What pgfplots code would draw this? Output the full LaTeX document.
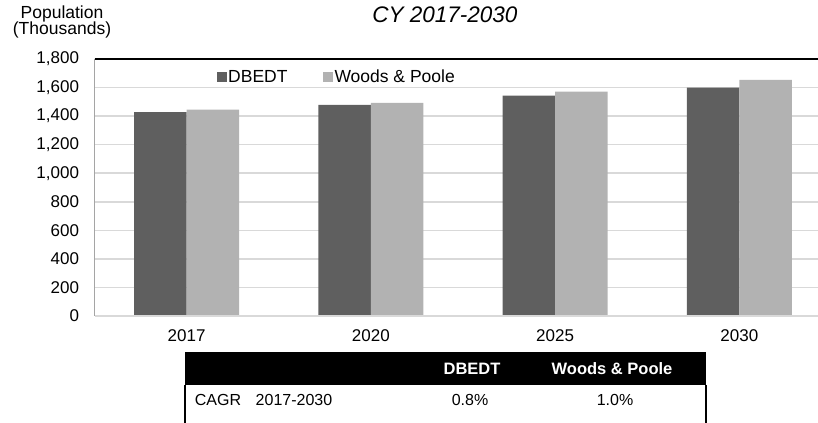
\documentclass[border=0pt]{standalone}
\usepackage{pgfplots}
\pgfplotsset{compat=1.18}
\usepackage{fontspec}
\setmainfont{Liberation Sans}
\definecolor{dbedt}{RGB}{95,95,95}
\definecolor{wp}{RGB}{178,178,178}
\definecolor{gridc}{RGB}{217,217,217}
\newcommand{\fs}{\fontsize{17bp}{20bp}\selectfont}
\newcommand{\fl}{\fontsize{17.5bp}{20bp}\selectfont}
\newcommand{\ft}{\fontsize{16bp}{19bp}\selectfont}
\begin{document}
\begin{tikzpicture}
\clip[use as bounding box] (0,0) rectangle (818bp,423bp);
\begin{axis}[
  at={(94.5bp,107bp)}, anchor=south west,
  scale only axis, width=737bp, height=257bp,
  xmin=-0.5, xmax=3.5, ymin=0, ymax=1800,
  ybar=0pt, bar width=52.5bp,
  xtick={0,1,2,3}, xticklabels={2017,2020,2025,2030},
  ytick={0,200,...,1800},
  major tick length=0pt,
  ymajorgrids, grid style={gridc, line width=1.5bp},
  axis line style={draw=none},
  tick label style={font=\fs},
  /pgf/number format/assume math mode=true,
  /pgf/number format/1000 sep={,},
  yticklabel style={anchor=east, xshift=-12bp},
  xticklabel style={anchor=north, yshift=-10bp},
  legend columns=-1,
  legend style={at={(0.1658,0.930)}, anchor=west, draw=none, fill=none,
    inner sep=0pt, outer sep=0pt, font=\fl,
    nodes={inner xsep=1.5bp},
    /tikz/every even column/.append style={column sep=34bp}},
]
\addplot[fill=dbedt, draw=none,
  legend image code/.code={\fill[dbedt] (0bp,-5bp) rectangle (10bp,5bp);}]
  coordinates {(0,1428) (1,1478) (2,1543) (3,1599)};
\addplot[fill=wp, draw=none,
  legend image code/.code={\fill[wp] (0bp,-5bp) rectangle (10bp,5bp);}]
  coordinates {(0,1445) (1,1492) (2,1571) (3,1653)};
\legend{DBEDT, Woods \& Poole}
\draw[gridc, line width=1.5bp] (rel axis cs:0,0) -- (rel axis cs:1,0);
\draw[black, line width=1.5bp] (rel axis cs:0,1) -- (rel axis cs:1,1);
\draw[black, line width=1.5bp] (rel axis cs:0,0) -- (rel axis cs:0,1);
\end{axis}
% titles
\node[align=center, font=\fontsize{17.5bp}{16.5bp}\selectfont] at (62bp,401bp) {Population\\(Thousands)};
\node[font=\fontsize{22.5bp}{27bp}\selectfont\itshape] at (445bp,408.5bp) {CY 2017-2030};
% table
\fill[black] (185bp,38bp) rectangle (706bp,71bp);
\draw[black, line width=1.5bp] (185bp,38bp) -- (185bp,0bp);
\draw[black, line width=1.5bp] (706bp,38bp) -- (706bp,0bp);
\node[white, font=\fontsize{16.5bp}{19bp}\selectfont\bfseries] at (472bp,54bp) {DBEDT};
\node[white, font=\fontsize{16.5bp}{19bp}\selectfont\bfseries] at (612bp,54bp) {Woods \& Poole};
\node[font=\ft] at (218bp,23bp) {CAGR};
\node[font=\ft] at (294bp,23bp) {2017-2030};
\node[font=\ft] at (470bp,23bp) {0.8\%};
\node[font=\ft] at (615bp,23bp) {1.0\%};
\end{tikzpicture}
\end{document}
